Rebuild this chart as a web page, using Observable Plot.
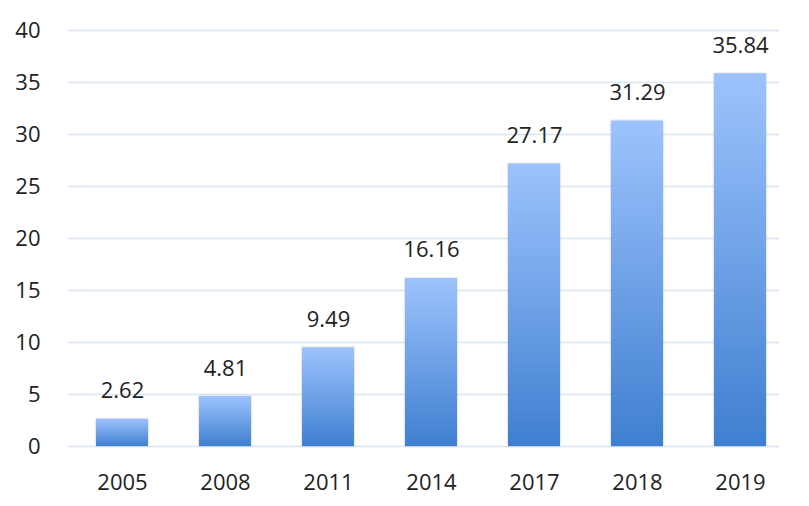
<!DOCTYPE html>
<html>
<head>
<meta charset="utf-8">
<script src="https://cdn.jsdelivr.net/npm/d3@7"></script>
<script src="https://cdn.jsdelivr.net/npm/@observablehq/plot@0.6"></script>
<style>
  html, body { margin: 0; padding: 0; background: #fff; }
  svg { display: block; }
</style>
</head>
<body>
<div id="chart"></div>
<script>
const years = ["2005", "2008", "2011", "2014", "2017", "2018", "2019"];
const values = [2.62, 4.81, 9.49, 16.16, 27.17, 31.29, 35.84];
const yTicks = [0, 5, 10, 15, 20, 25, 30, 35, 40];

const data = years.map((y, i) => ({year: y, value: values[i]}));

const chart = Plot.plot({
  width: 809,
  height: 506,
  marginLeft: 68,
  marginRight: 30,
  marginTop: 30,
  marginBottom: 60,
  style: {fontFamily: "'Open Sans', 'DejaVu Sans', sans-serif", fontSize: "22px", color: "#222", background: "#fff"},
  x: {domain: years, range: [68, 793], paddingInner: 0.5, paddingOuter: 0.25, label: null, tickSize: 0, tickPadding: 28},
  y: {domain: [0, 40], ticks: yTicks, label: null, tickSize: 0, tickPadding: 28},
  marks: [
    Plot.gridY(yTicks, {stroke: "#d9e5f3", strokeOpacity: 1, strokeWidth: 1.5}),
    () => {
      const svg = d3.create("svg:defs");
      const g = svg.append("linearGradient").attr("id", "barGrad").attr("x1", 0).attr("y1", 0).attr("x2", 0).attr("y2", 1);
      g.append("stop").attr("offset", "0%").attr("stop-color", "#9dc3fd");
      g.append("stop").attr("offset", "100%").attr("stop-color", "#3f7fd0");
      const f = svg.append("filter").attr("id", "barShadow").attr("x", "-10%").attr("y", "-10%").attr("width", "120%").attr("height", "120%");
      f.append("feDropShadow").attr("dx", 0).attr("dy", 0).attr("stdDeviation", 1.2).attr("flood-color", "#000").attr("flood-opacity", 0.25);
      return svg.node();
    },
    Plot.barY(data, {x: "year", y: "value", fill: "url(#barGrad)"}),
    Plot.text(data, {x: "year", y: "value", text: d => d.value.toFixed(2), dy: -28, fill: "#222", fontSize: 22})
  ]
});
chart.querySelectorAll("g[aria-label='bar'] rect").forEach(r => r.setAttribute("filter", "url(#barShadow)"));
document.getElementById("chart").append(chart);
</script>
</body>
</html>
